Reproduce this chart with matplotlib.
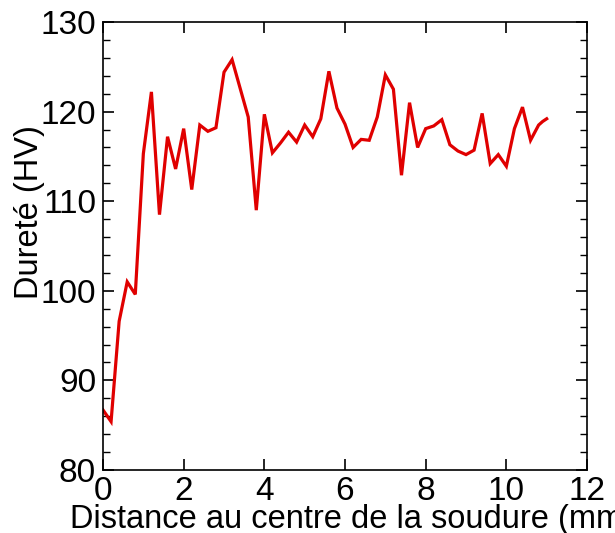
import matplotlib
matplotlib.use("Agg")
import matplotlib.pyplot as plt
from matplotlib.ticker import MultipleLocator

distance_mm = [0.0, 0.2, 0.4, 0.6, 0.8, 1.0, 1.2, 1.4, 1.6, 1.8,
               2.0, 2.2, 2.4, 2.6, 2.8, 3.0, 3.2, 3.4, 3.6, 3.8,
               4.0, 4.2, 4.4, 4.6, 4.8, 5.0, 5.2, 5.4, 5.6, 5.8,
               6.0, 6.2, 6.4, 6.6, 6.8, 7.0, 7.2, 7.4, 7.6, 7.8,
               8.0, 8.2, 8.4, 8.6, 8.8, 9.0, 9.2, 9.4, 9.6, 9.8,
               10.0, 10.2, 10.4, 10.6, 10.8, 10.9, 11.0]
durete_hv = [86.7, 85.4, 96.6, 101.0, 99.6, 115.3, 122.2, 108.5, 117.2, 113.6,
             118.1, 111.3, 118.5, 117.8, 118.2, 124.4, 125.8, 122.6, 119.4, 109.0,
             119.7, 115.4, 116.5, 117.7, 116.6, 118.5, 117.2, 119.2, 124.5, 120.4,
             118.6, 116.0, 116.9, 116.8, 119.4, 124.1, 122.5, 112.9, 121.0, 116.0,
             118.1, 118.4, 119.1, 116.3, 115.6, 115.2, 115.7, 119.8, 114.2, 115.2,
             113.9, 118.1, 120.5, 116.8, 118.5, 118.9, 119.2]

x_ticks = [0, 2, 4, 6, 8, 10, 12]
y_ticks = [80, 90, 100, 110, 120, 130]

plt.rcParams['font.family'] = ['Liberation Sans', 'DejaVu Sans']

fig = plt.figure(figsize=(6.15, 5.33), dpi=100)
ax = fig.add_axes([0.1675, 0.1182, 0.787, 0.8405])

ax.plot(distance_mm, durete_hv, color='#e00000', lw=2.3, solid_joinstyle='miter')

ax.set_xlim(0, 12)
ax.set_ylim(80, 130)
ax.set_xticks(x_ticks)
ax.set_yticks(y_ticks)
ax.yaxis.set_minor_locator(MultipleLocator(2))

ax.tick_params(axis='both', which='both', direction='in', top=True, right=True,
               labelsize=24, color='black')
ax.tick_params(axis='both', which='major', length=8, width=1.2)
ax.tick_params(axis='both', which='minor', length=5, width=1.0)
ax.tick_params(axis='y', which='major', pad=5)
ax.tick_params(axis='x', which='major', pad=4)

for sp in ax.spines.values():
    sp.set_linewidth(1.2)
    sp.set_color('black')

ax.set_xlabel('Distance au centre de la soudure (mm)', fontsize=23.5)
ax.xaxis.set_label_coords(0.5 + 7 / 484, -0.076)
ax.set_ylabel('Dureté (HV)', fontsize=23.5)
ax.yaxis.set_label_coords(-0.12, 0.575)

fig.savefig('out.png', dpi=100)
